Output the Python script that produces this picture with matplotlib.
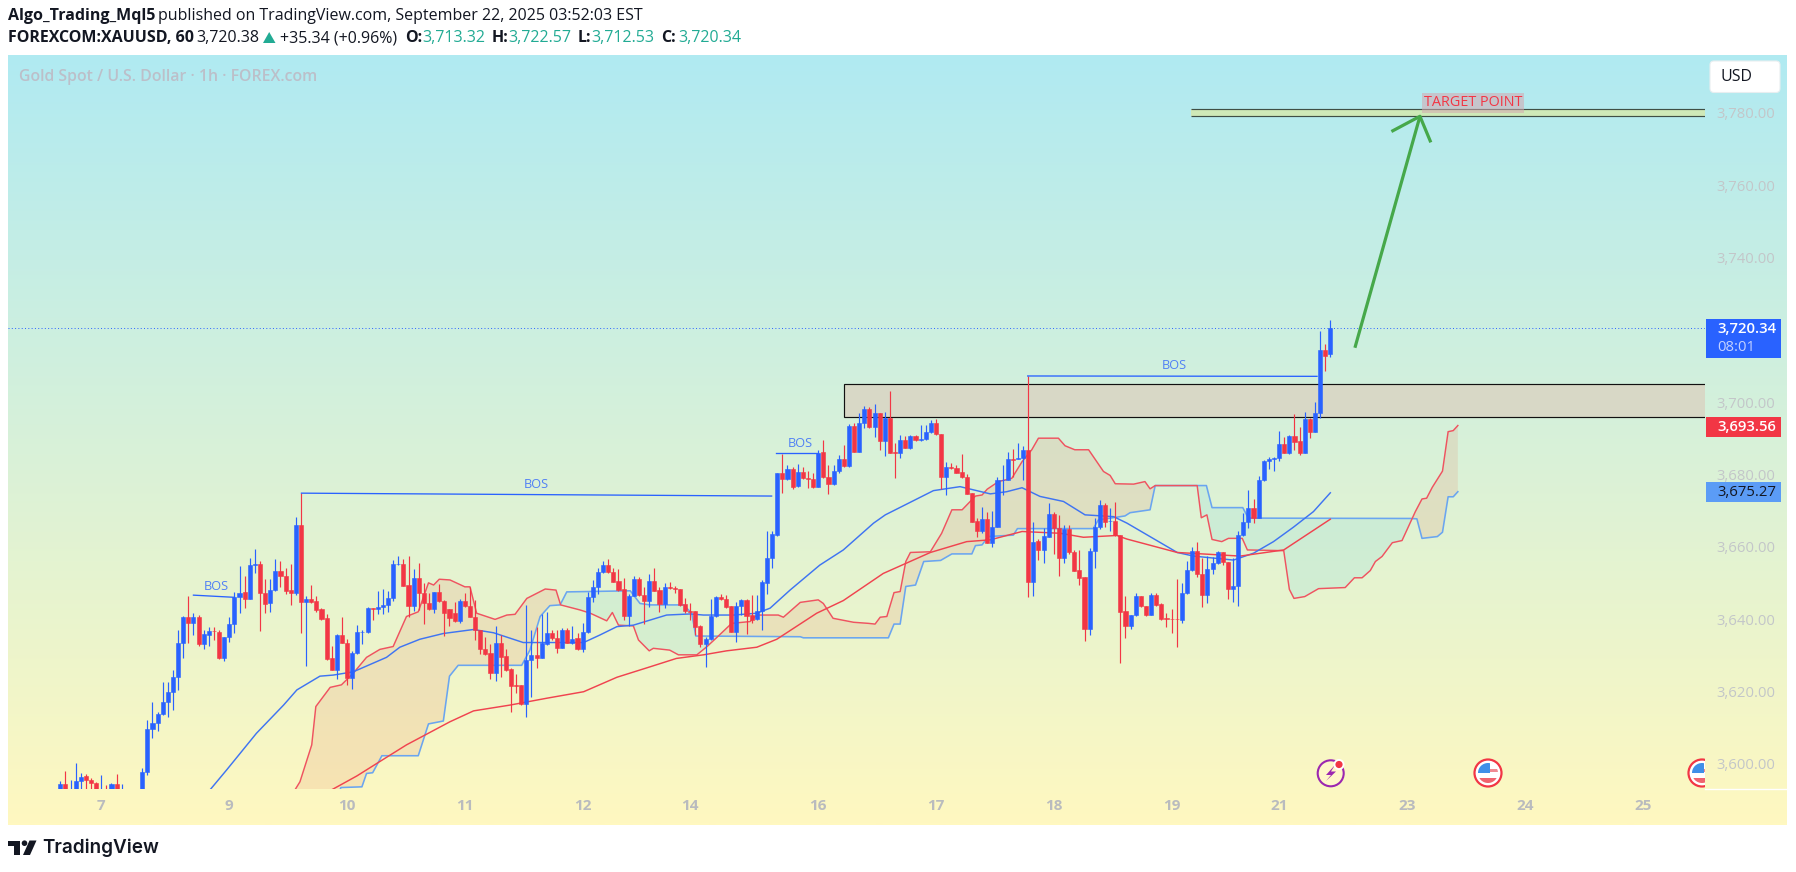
import numpy as np
import matplotlib
matplotlib.use("Agg")
import matplotlib.pyplot as plt
from matplotlib.patches import Rectangle, Circle, FancyBboxPatch, Polygon

plt.rcParams["font.family"] = ["Open Sans", "DejaVu Sans"]

# one entry per hourly bar
opens = [3590,3594.3,3588,3591,3595.2,3596.6,3595.5,3594.6,3588,3591,3590,3594.3,3589,3588,3587,3586,3588,3597.8,3609.5,3611.2,
    3613.6,3617,3619.7,3624.1,3633.3,3640.5,3639,3640.5,3633.1,3635.7,3636.8,3636.4,3629.2,3634.9,3638.5,3646.2,3647.5,3645.6,3654.8,3655.1,
    3647.3,3644.5,3647.9,3653.4,3651.9,3647.9,3647.3,3665.9,3644.8,3645.4,3644.9,3642.7,3640.2,3629.1,3625.9,3635.5,3633.5,3623.8,3630.5,3636.3,
    3636.4,3643,3642.7,3643.4,3643.8,3645.7,3655.1,3655.1,3649.3,3643.7,3651.3,3647.3,3644.3,3642.7,3647.4,3645.1,3642.7,
    3641.8,3639.5,3645,3643.7,3640.6,3637.1,3631.8,3630.5,3625,3633.3,3629.8,3626.1,3621.8,3621.8,3616.5,3628.8,3630,3629.2,3633.1,3636,
    3634.8,3632.1,3637,3633.5,3634.7,3631.6,3636.3,3646.2,3648.8,3652.9,3654.8,3652.9,3650.5,3648.2,3640.8,3646.5,3651,3646.7,3645.1,3650.4,
    3648,3644.2,3648.9,3648.5,3648.2,3644.1,3642.3,3642.1,3638.1,3633.2,3634.4,3640.8,3646,3645.4,3643.6,3636.5,3643.7,3645.2,3641,3639.9,
    3642.3,3650,3657,3663.2,3680.3,3678.7,3681.4,3676.7,3680.7,3679,3678.6,
    3676.6,3686.1,3679.2,3677.4,3680.8,3684.3,3682.3,3693.4,3686.3,3694.1,3698,3693,3696.9,3689.1,3695.7,3686.2,3686,3689.4,3687.4,3690.5,
    3689.4,3689.7,3691.6,3694.1,3691.1,3679.4,3682,3681.8,3680.6,3679.2,3674.8,3667.1,3664.4,3667.7,3661.1,3665.5,3678.4,3678.5,3684.3,3684.2,
    3684.6,3686.8,3650.1,3661.6,3659.1,3662.8,3669,3665.1,3657,3664.8,3658.5,3653.6,3651.6,3637.3,3658.7,3665.4,3671.5,3667,3667.1,3663.2,
    3642.2,3638.2,3641.1,3646.3,3643.6,3641.1,3646.6,3644.2,3640.3,3640,3640,3639.6,3647.1,3653.5,3658.7,
    3652.4,3646.7,3653.8,3655.4,3658.4,3655.7,3648.2,3649,3663.2,3666.7,3670.6,3667.9,3678.4,3683.6,3684.3,3684.6,3688.3,3685.9,3690.6,3689.2,
    3686,3695.2,3691.8,3696.9,3714.3,3713.32]
highs = [3595.2,3598,3595.5,3600.3,3597.3,3597.1,3596,3595,3596.9,3594.1,3594.6,3597.1,3594.3,3590,3589,3590,3598.7,3612.1,3617.1,3614.4,
    3622.5,3622.7,3625.9,3637,3640.8,3646.4,3641.6,3641.1,3637,3637.7,3637.9,3637,3635.1,3640.6,3647.6,3654.7,3651.9,3657,3659.4,3656.1,
    3651.1,3651,3656.6,3656,3654,3655.1,3668.1,3674.8,3646.4,3649.4,3646.4,3643,3641.4,3632.6,3635.9,3640.6,3634.4,3631.2,3638.3,3637,
    3643.4,3643.1,3647.8,3648.2,3647.8,3656.3,3657.4,3656.5,3657.4,3653.8,3655.4,3650,3647.3,3647.4,3649.7,3645.3,3642.7,
    3644.8,3645.4,3647.3,3648.9,3645.3,3637.1,3635.1,3633.1,3638.1,3635.6,3631.6,3626.4,3624.8,3621.8,3643.9,3637,3637.9,3641.4,3642,3637.1,
    3637,3637.4,3637.4,3638.1,3636.2,3638.8,3647.6,3650.8,3654,3656,3656.5,3654,3653.7,3651.3,3646.9,3652,3651.7,3648.9,3652.4,3654,
    3648.8,3649.9,3650.3,3649.2,3648.3,3645.7,3644.3,3642.2,3638.3,3635.1,3645.5,3646.5,3646.9,3646.6,3643.7,3644.8,3645.4,3645.4,3646.6,3646.6,
    3650.8,3664.3,3664.2,3680.3,3685.6,3682.6,3681.9,3682.8,3681.9,3681,3680.3,
    3686.8,3689.5,3682.6,3682.6,3685.4,3688.1,3693.9,3694.1,3697.1,3698.9,3698.5,3699.5,3697.1,3697.3,3703.1,3688.6,3690.9,3690.6,3690.9,3690.9,
    3693.7,3693.7,3695,3695.3,3691.2,3683.5,3683.1,3682.6,3685.6,3680.1,3674.8,3667.9,3671,3669.7,3669.9,3679.2,3682.6,3686.3,3687,3688.6,
    3687.9,3707.2,3666.8,3662.1,3665.1,3672,3669.7,3668.8,3666,3666,3659.1,3659.1,3651.7,3659.6,3668,3672.9,3672.2,3670.8,3672.4,3663.2,
    3646.4,3641.1,3647.1,3646.5,3643.6,3647.1,3647.3,3644.3,3641.6,3642.8,3651,3649.9,3656.1,3659.8,3661.2,
    3656.8,3657.4,3657.2,3658.9,3658.6,3655.9,3656.8,3664.3,3669.2,3675.7,3673.2,3679.6,3684,3684.9,3684.9,3692,3690.2,3690.9,3696.7,3693.2,
    3697.3,3695.5,3700.1,3719.6,3716,3722.57]
lows = [3588,3589,3587,3590,3591,3591,3591,3589,3587,3588,3589,3589,3588,3586,3585,3585,3587,3596.9,3607,3608.9,
    3613.5,3613,3614.8,3620.4,3629.1,3633.3,3635.6,3632.6,3631.7,3632.6,3634.2,3629,3628.5,3633.7,3636.2,3641.6,3643,3645.6,3652.8,3636.8,
    3641.8,3642,3647.8,3648.8,3646.8,3643.9,3646.6,3636.2,3627.1,3644.3,3642,3639.7,3628.7,3625.9,3623.3,3633.3,3621.8,3620.7,3630.3,3633.1,
    3636.2,3639.7,3641.3,3641.3,3642,3645.1,3654.9,3649.1,3640.6,3642.3,3642.5,3638.6,3642.5,3641.8,3644.8,3635.4,3638.1,
    3639.3,3638.8,3643.4,3640.5,3634.2,3630.3,3630,3623.4,3623,3624.1,3625.7,3614.4,3619.5,3616.2,3613,3618.5,3626.4,3629.1,3632.8,3634.2,
    3630.5,3631.9,3633.3,3633.1,3631.4,3630.8,3636.2,3644.8,3646.9,3652.8,3652.8,3650.3,3647.8,3639.7,3638.1,3646.4,3646.5,3638.5,3643.4,3647.7,
    3642,3643,3648.3,3647.1,3643.7,3641.6,3639.7,3635.6,3632.2,3626.8,3634.2,3640.6,3645.3,3643.1,3636.3,3633.7,3641.1,3635.9,3639,3639.7,
    3637,3646.9,3654,3663,3674.8,3678.3,3676,3676.4,3678.8,3676.3,3676.1,
    3676.4,3678.9,3674.6,3677.1,3680.5,3682.1,3682,3686.1,3686.1,3692.9,3692.7,3690.4,3686.6,3685.1,3685.8,3678.9,3684.6,3687.2,3687,3689.2,
    3689.3,3689.5,3691.4,3690.9,3676,3674.3,3681.5,3680.3,3678.9,3674.6,3666.8,3662.6,3663.7,3661,3660,3665.5,3674.3,3678.3,3679.2,3684.2,
    3678.5,3646.2,3646.4,3656.3,3655.6,3662.6,3658,3652,3655.6,3658,3653.3,3649.4,3634,3635.6,3654,3664.8,3665.5,3664.4,3663,3627.9,
    3634.7,3637.2,3640.9,3643.4,3640.9,3641,3643.6,3639.7,3637.9,3636.1,3632.4,3639,3646.9,3653.4,3651.5,
    3643.4,3644.5,3652.5,3655.2,3654.9,3645.5,3644.8,3643.7,3663,3665.3,3666.6,3667.9,3678.2,3681.5,3680.8,3683.8,3685.8,3685.7,3686.6,3685.4,
    3685.8,3690.1,3691.7,3695.5,3708.7,3712.53]
closes = [3594.3,3590,3591,3595.2,3596.4,3595.5,3594.6,3590,3591,3589,3594.3,3590,3591,3587,3586,3588,3597.8,3609.5,3611.2,3613.6,
    3617,3619.7,3624.1,3633.3,3640.5,3639,3640.5,3633.1,3635.8,3636.6,3636.6,3629.2,3634.9,3638.5,3646.2,3647.3,3645.6,3654.8,3655.1,3647.3,
    3644.2,3647.9,3653.4,3651.9,3647.8,3647.3,3665.9,3644.8,3645.4,3644.8,3642.6,3640,3628.9,3625.9,3635.5,3633.5,3623.8,3630.5,3636.3,3636.4,
    3643,3642.8,3643.4,3643.8,3645.7,3655.1,3655.2,3649.2,3643.7,3651.3,3647.3,3644.3,3642.7,3647.4,3645.1,3641.8,3640.2,
    3639.5,3645,3643.7,3640.6,3637,3631.8,3630.3,3625,3633.3,3629.6,3625.9,3621.6,3621.6,3616.5,3628.8,3630,3629.2,3633.3,3636,3634.8,
    3632.1,3637,3633.5,3634.6,3631.6,3636.3,3646.2,3648.8,3652.9,3654.8,3652.9,3650.3,3648,3640.8,3646.5,3651,3646.7,3645.1,3650.4,3647.8,
    3644.2,3648.9,3648.5,3648.2,3643.9,3642.3,3642,3637.9,3633.2,3634.4,3640.8,3646,3645.4,3643.4,3636.5,3643.7,3645.2,3640.9,3639.7,3642.3,
    3650.1,3657,3663.4,3680.3,3678.7,3681.4,3676.4,3680.7,3678.9,3678.8,3676.6,
    3686,3679.2,3677.4,3680.8,3684.3,3682.3,3693.4,3686.3,3694.1,3698,3693,3696.9,3689.1,3695.7,3686,3686,3689.4,3687.4,3690.5,3689.4,
    3689.7,3691.6,3694.1,3691.1,3679.4,3682,3681.7,3680.5,3679.2,3674.7,3666.9,3664.4,3667.6,3661.1,3665.5,3678.4,3678.5,3684.2,3684,3684.6,
    3686.8,3650.1,3661.4,3659.1,3663,3669,3665.1,3657,3664.8,3658.4,3653.4,3651.4,3637.3,3658.7,3665.4,3671.5,3666.9,3667.1,3663.2,3642,
    3638.2,3641.1,3646.3,3643.5,3641.1,3646.6,3643.9,3640.1,3639.9,3639.9,3639.9,3647.1,3653.5,3658.7,3652.4,
    3646.7,3653.8,3655.4,3658.4,3655.7,3648.2,3649,3663.2,3666.7,3670.6,3667.9,3678.4,3683.6,3684.3,3684.6,3688.3,3685.9,3690.6,3689,3686,
    3695.2,3691.8,3696.9,3714.3,3712.8,3720.34]

ma_blue_bars = [29.2,32.5,38.3,43.6,46.2,50.7,53.3,57.2,63.7,66.3,70.2,74.8,80.7,84.6,90.4,102.2,105.4,108.7,111.9,118.4,123,125.6,131.5,136,138.6,142.5,148.3,152.9,158.8,161.1,170.5,175.7,181.6,184.8,187.8,191.3,195.9,200.1,205.7,208.3,218.1,221.3,229.1,233,236.9,240.8,244.7,248]
ma_blue_vals = [3592.7,3598.3,3608.4,3616.2,3620.4,3624.2,3624.5,3625.4,3629.4,3632.2,3634.4,3636,3637.1,3636.2,3633.5,3633.5,3635.6,3637.9,3638.3,3641.1,3641.4,3641.1,3641.1,3641.6,3643,3648,3654.9,3659.1,3666.5,3668.8,3675.5,3676.6,3674.6,3675.2,3676.3,3673.9,3672.5,3668.8,3668.3,3666.5,3658.4,3657.4,3656.3,3658.2,3661.4,3665.4,3669.7,3674.9]
ma_red_bars = [52.9,57.9,62.4,67.6,76.1,80.7,87.8,95,102.2,108.7,115.2,120.3,125.6,130.1,136,139.9,147.7,152.9,160.7,169.9,177,181.6,187.8,195.3,199.8,206.3,208.3,218.1,230.4,238.9,245,248]
ma_red_vals = [3592.7,3596.6,3600.6,3605.2,3611.6,3614.6,3616.2,3618.1,3619.9,3623.9,3626.8,3629.1,3630.1,3631.2,3632.2,3634.4,3641.6,3645.1,3652.6,3658.4,3661.4,3661.9,3664.2,3663.7,3662.6,3663.1,3662.1,3658.4,3657.4,3659.1,3664.8,3667.6]

cloud_red_bars = [45.8,46.8,49.1,49.9,52.7,54.9,57.2,59.8,62.4,65,67.6,69.9,71.9,72.9,74,76.1,79,80,81.3,84.9,87.2,88.8,91.1,94.7,96.8,97.7,101.5,103.5,106.7,107.8,109,111.9,112.9,115,115.8,119,120.7,124.3,126.3,128.2,131.1,134.7,136,140.2,141.2,144.5,148,149,150.9,154.9,157.8,159.1,160.1,161.4,162.8,164,165.1,166,169.9,172.1,174.1,176.1,178.7,180,181,183.2,185.8,187.8,189.7,191,194.9,196.2,198.1,200.8,203.7,205,206,209.6,211.8,212.8,213.8,222,222.8,223.9,224.9,226.8,228.1,230.8,231.8,238.9,240,240.9,243,245.7,250.9,252.7,254.2,255.8,256.8,258.1,260.1,262,264.6,265.9,266.8,267.9,269.9,271,272,272.9]
cloud_red_vals = [3592.7,3595,3605.2,3615.8,3621.1,3621.8,3625,3629.4,3631.6,3632.4,3640.7,3642,3650,3649.4,3651,3650.8,3648.9,3648.9,3641.6,3639.9,3641.1,3641.3,3645.7,3648.3,3648,3643.9,3642.5,3641.6,3639.5,3641.8,3638.3,3638.1,3634.2,3631.2,3631.9,3631.4,3630.1,3630.1,3632.4,3634.9,3638.8,3639.3,3641.1,3641.1,3640.5,3644.6,3645.3,3644.3,3640.2,3639.1,3638.8,3638.6,3640.5,3640.7,3647.3,3647.6,3655.9,3658.4,3658.6,3663.7,3670.2,3670.2,3674,3674.3,3675.9,3678,3678.9,3683.5,3686.8,3690,3690,3687.9,3686.8,3686.8,3680.8,3679.7,3677.4,3677.3,3678,3676,3676.9,3676.9,3668,3668.8,3662,3661.4,3662.3,3662.3,3659.1,3658.9,3648.2,3645.7,3646.2,3648.4,3648.7,3651.4,3651.4,3653.4,3655.9,3657.3,3661.1,3661.7,3669.7,3673.2,3673.4,3676.4,3680.9,3691.8,3692.1,3693.5]
cloud_blue_bars = [45.8,53.8,54.8,58.9,59.8,61,62.8,69.9,71.9,74.8,76,77.7,90.1,91.7,93.7,95.6,97.6,98.9,111.3,113.2,115.2,121.7,123.3,124.1,144.5,145.1,161.7,162.8,164,165.1,167,168.6,171.9,174.1,178,178.7,180,181.2,186.1,186.9,201.7,202.7,207.9,208.9,212.8,213.8,223.8,224.9,230.9,232,263.6,264.9,265.9,268.9,269.9,271,272,272.9]
cloud_blue_vals = [3588,3590,3593.4,3593.6,3597.3,3597.5,3602.2,3602.2,3611,3611.8,3624.2,3627.2,3627.2,3631.4,3640.7,3643.7,3643.9,3647.5,3647.8,3644.3,3643.9,3643.9,3641.6,3635.3,3635.1,3634.8,3634.8,3638.6,3638.6,3649,3649.4,3655.9,3656.2,3658,3658,3660.3,3660.5,3662.8,3663.2,3665,3665,3667.4,3668.5,3669.4,3670.2,3676.9,3676.9,3670.8,3670.8,3667.9,3667.8,3667.7,3662.3,3662.8,3664,3673.8,3673.8,3675.2]

bos_lines = [(26,34,3646.6,3646), (47.1,138.9,3674.8,3674), (139.8,148,3685.8,3685.8), (188.9,245.4,3707.2,3707.1)]
bos_text = [(30.5,3649.1), (92.9,3677.3), (144.5,3688.4), (217.5,3710)]

day_ticks = [8,33,56,79,102,123,148,171,194,217,238,263,286,309]
day_labels = ["7","9","10","11","12","14","16","17","18","19","21","23","24","25"]
price_ticks = [3600,3620,3640,3660,3680,3700,3720,3740,3760,3780]

last_price = 3720.34
zone_low, zone_high = 3695.8, 3704.9
target_low, target_high = 3779, 3780.9

UP = "#2962ff"
DOWN = "#f23645"
TICK_GRAY = "#c3c6c9"

W, H = 1796, 872
fig = plt.figure(figsize=(W / 100, H / 100), dpi=100, facecolor="white")

# panel background
bg = fig.add_axes([8 / W, (H - 825) / H, 1779 / W, 770 / H], zorder=0)
top = np.array([0xb0, 0xea, 0xf2]) / 255
bottom = np.array([0xff, 0xf8, 0xc0]) / 255
t = np.linspace(0, 1, 256)[:, None, None]
bg.imshow(top * (1 - t) + bottom * t, aspect="auto", interpolation="bilinear")
bg.axis("off")

# price pane
ax = fig.add_axes([8 / W, (H - 789) / H, 1697 / W, 734 / H], zorder=1)
ax.patch.set_alpha(0)
ax.set_xlim(-10.21, 321.16)
ax.set_ylim(3593.0, 3795.95)
for s in ax.spines.values():
    s.set_visible(False)
ax.yaxis.tick_right()
ax.set_yticks(price_ticks)
ax.set_yticklabels([f"{p:,.2f}" for p in price_ticks], fontsize=10.7, color=TICK_GRAY)
ax.set_xticks(day_ticks)
ax.set_xticklabels(day_labels, fontsize=11, color="#b9bbbe", fontweight="bold")
ax.tick_params(axis="y", length=0, pad=8.5)
ax.tick_params(axis="x", length=0, pad=7)
# the 3,720 tick is hidden by the price tag
ax.get_yticklabels()[6].set_visible(False)

# cloud
grid = np.array(sorted(set(cloud_red_bars) | set(cloud_blue_bars)))
span_r = np.interp(grid, cloud_red_bars, cloud_red_vals)
span_b = np.interp(grid, cloud_blue_bars, cloud_blue_vals)
ax.fill_between(grid, span_r, span_b, where=span_r >= span_b, interpolate=True, color="#e47e61", alpha=0.16, lw=0, zorder=1)
ax.fill_between(grid, span_r, span_b, where=span_r <= span_b, interpolate=True, color="#80d8e0", alpha=0.2, lw=0, zorder=1)
ax.plot(cloud_blue_bars, cloud_blue_vals, color="#6aa5f0", lw=1.15, zorder=2)
ax.plot(cloud_red_bars, cloud_red_vals, color="#ef5360", lw=1.05, zorder=2)

# zones
ax.add_patch(Rectangle((153, zone_low), 400, zone_high - zone_low, fc="#d8d8c6", ec="#111111", lw=0.85, zorder=1.5))
ax.add_patch(Rectangle((220.8, target_low), 400, target_high - target_low, fc="#cfe9b8", ec="none", zorder=1.5))
ax.hlines([target_low, target_high], 220.8, 321.16, colors="#3f4f45", lw=0.85, zorder=1.6)

ax.plot(ma_blue_bars, ma_blue_vals, color="#3f74f2", lw=1.05, zorder=2.5)
ax.plot(ma_red_bars, ma_red_vals, color="#f0434f", lw=1.05, zorder=2.5)

# last price line
ax.axhline(last_price, color="#2962ff", lw=0.7, ls=(0, (1, 2.4)), zorder=2)

# candles
bars = np.arange(len(opens))
o, h, l, c = map(np.array, (opens, highs, lows, closes))
colors = np.where(c >= o, UP, DOWN)
ax.vlines(bars, l, h, colors=colors, lw=0.85, zorder=3)
ax.bar(bars, np.abs(c - o), bottom=np.minimum(o, c), width=0.8, color=colors, edgecolor=colors, lw=0.4, zorder=3.2)

# break of structure marks
for (x0, x1, y0, y1), (tx, ty) in zip(bos_lines, bos_text):
    ax.plot([x0, x1], [y0, y1], color="#2962ff", lw=0.95, zorder=3.5)
    ax.text(tx, ty, "BOS", color="#5080f5", fontsize=9.2, ha="center", va="center", zorder=3.6)

# target arrow
arrow_bars = [252.8, 265.5]
arrow_vals = [3715, 3779]
ax.plot(arrow_bars, arrow_vals, color="#46a84a", lw=2.3, solid_capstyle="butt", zorder=4)
ax.plot([260.2, 265.5, 267.5], [3775, 3779, 3772.2], color="#46a84a", lw=2.3, zorder=4)

# icons sit in the pane and get cut at its right edge
ic = fig.add_axes([0, 0, 1705 / W, 1], zorder=1.5)
ic.patch.set_alpha(0)
ic.axis("off")
ic.set_xlim(0, 1705)
ic.set_ylim(H, 0)


def flag(cx, cy):
    ic.add_patch(Circle((cx, cy), 13.5, fc="white", ec="#f23645", lw=1.6))
    inner = Circle((cx, cy), 10, fc="white", ec="none")
    ic.add_patch(inner)
    for r in (Rectangle((cx - 10, cy + 5), 20, 5, fc="#f0636e", ec="none"),
              Rectangle((cx + 1, cy - 4), 10, 3, fc="#f08a92", ec="none"),
              Rectangle((cx - 10, cy - 10), 12, 10, fc="#3f8fe8", ec="none")):
        ic.add_patch(r)
        r.set_clip_path(inner)


flag(1488, 773)
flag(1702, 773)
ic.add_patch(Circle((1330.7, 773.3), 13, fc="#fff8c8", ec="#9c27b0", lw=1.5))
ic.add_patch(Polygon([(1335, 765), (1326, 775), (1331, 775), (1326, 781), (1336, 771.5), (1331, 771.5)], fc="#9c27b0", ec="none"))
ic.add_patch(Circle((1339, 764.5), 5.5, fc="white", ec="none"))
ic.add_patch(Circle((1339, 764.5), 3.6, fc="#f23645", ec="none"))

# everything around the pane, in image pixels
ov = fig.add_axes([0, 0, 1, 1], zorder=2)
ov.patch.set_alpha(0)
ov.axis("off")
ov.set_xlim(0, W)
ov.set_ylim(H, 0)

ov.plot([1705, 1787], [789, 789], color="white", lw=1)

ov.add_patch(FancyBboxPatch((1710, 61), 70, 31.5, boxstyle="round,pad=0,rounding_size=4", fc="white", ec="#e8eef0", lw=0.8))
ov.text(1721, 77, "USD", fontsize=11.5, color="#131722", va="center")

ov.text(19, 77, "Gold Spot / U.S. Dollar · 1h · FOREX.com", fontsize=11.4, color="#bcbfc9", fontweight="semibold", va="center")

ov.add_patch(Rectangle((1422, 93), 102, 19.7, fc="#d4a8b0", alpha=0.55, ec="none"))
ov.text(1473, 103, "TARGET POINT", fontsize=10.4, color="#f23645", ha="center", va="center")

# price tags
ov.add_patch(Rectangle((1706, 319), 75, 38.6, fc="#2962ff", ec="none"))
ov.text(1717, 329, "3,720.34", fontsize=10.7, color="white", fontweight="semibold", va="center")
ov.text(1717, 347, "08:01", fontsize=10.7, color="#c4d2ff", va="center")
ov.add_patch(Rectangle((1706, 416.7), 75, 20, fc="#f23645", ec="none"))
ov.text(1717, 426.5, "3,693.56", fontsize=10.7, color="white", fontweight="semibold", va="center")
ov.add_patch(Rectangle((1706, 482.4), 75, 20, fc="#5b9cf6", ec="none"))
ov.text(1717, 492.3, "3,675.27", fontsize=10.7, color="#131722", va="center")

# header
HDR = 11.5
DARK = "#131722"
GREEN = "#22ab94"
ov.text(8, 16.5, "Algo_Trading_Mql5", fontsize=HDR, color=DARK, fontweight="bold", va="center")
ov.text(157.5, 16.5, "published on TradingView.com, September 22, 2025 03:52:03 EST", fontsize=HDR, color=DARK, va="center")
ov.text(8, 38.5, "FOREXCOM:XAUUSD, 60", fontsize=HDR, color=DARK, fontweight="bold", va="center")
ov.text(196, 38.5, "3,720.38", fontsize=HDR, color=DARK, va="center")
ov.add_patch(Polygon([(263, 43), (275.5, 43), (269.2, 32)], fc=GREEN, ec="none"))
ov.text(280.5, 38.5, "+35.34 (+0.96%)", fontsize=HDR, color=DARK, va="center")
ohlc_x = [(405, 422, "O:", "3,713.32"), (492, 508, "H:", "3,722.57"), (578, 591, "L:", "3,712.53"), (661, 678, "C:", "3,720.34")]
for x0, x1, name, val in ohlc_x:
    ov.text(x0, 38.5, name, fontsize=HDR, color=DARK, fontweight="bold", va="center")
    ov.text(x1, 38.5, val, fontsize=HDR, color=GREEN, va="center")

# TradingView logo
ov.add_patch(Polygon([(8, 840.5), (19.5, 840.5), (19.5, 855), (13.5, 855), (13.5, 846), (8, 846)], fc=DARK, ec="none"))
ov.add_patch(Circle((24.5, 843.2), 2.8, fc=DARK, ec="none"))
ov.add_patch(Polygon([(29.5, 840.5), (36.5, 840.5), (30, 855), (23, 855)], fc=DARK, ec="none"))
ov.text(42.5, 848, "TradingView", fontsize=13.6, color=DARK, fontweight="semibold", va="center", family=["Inter", "DejaVu Sans"])

fig.savefig("out.png", dpi=100)
